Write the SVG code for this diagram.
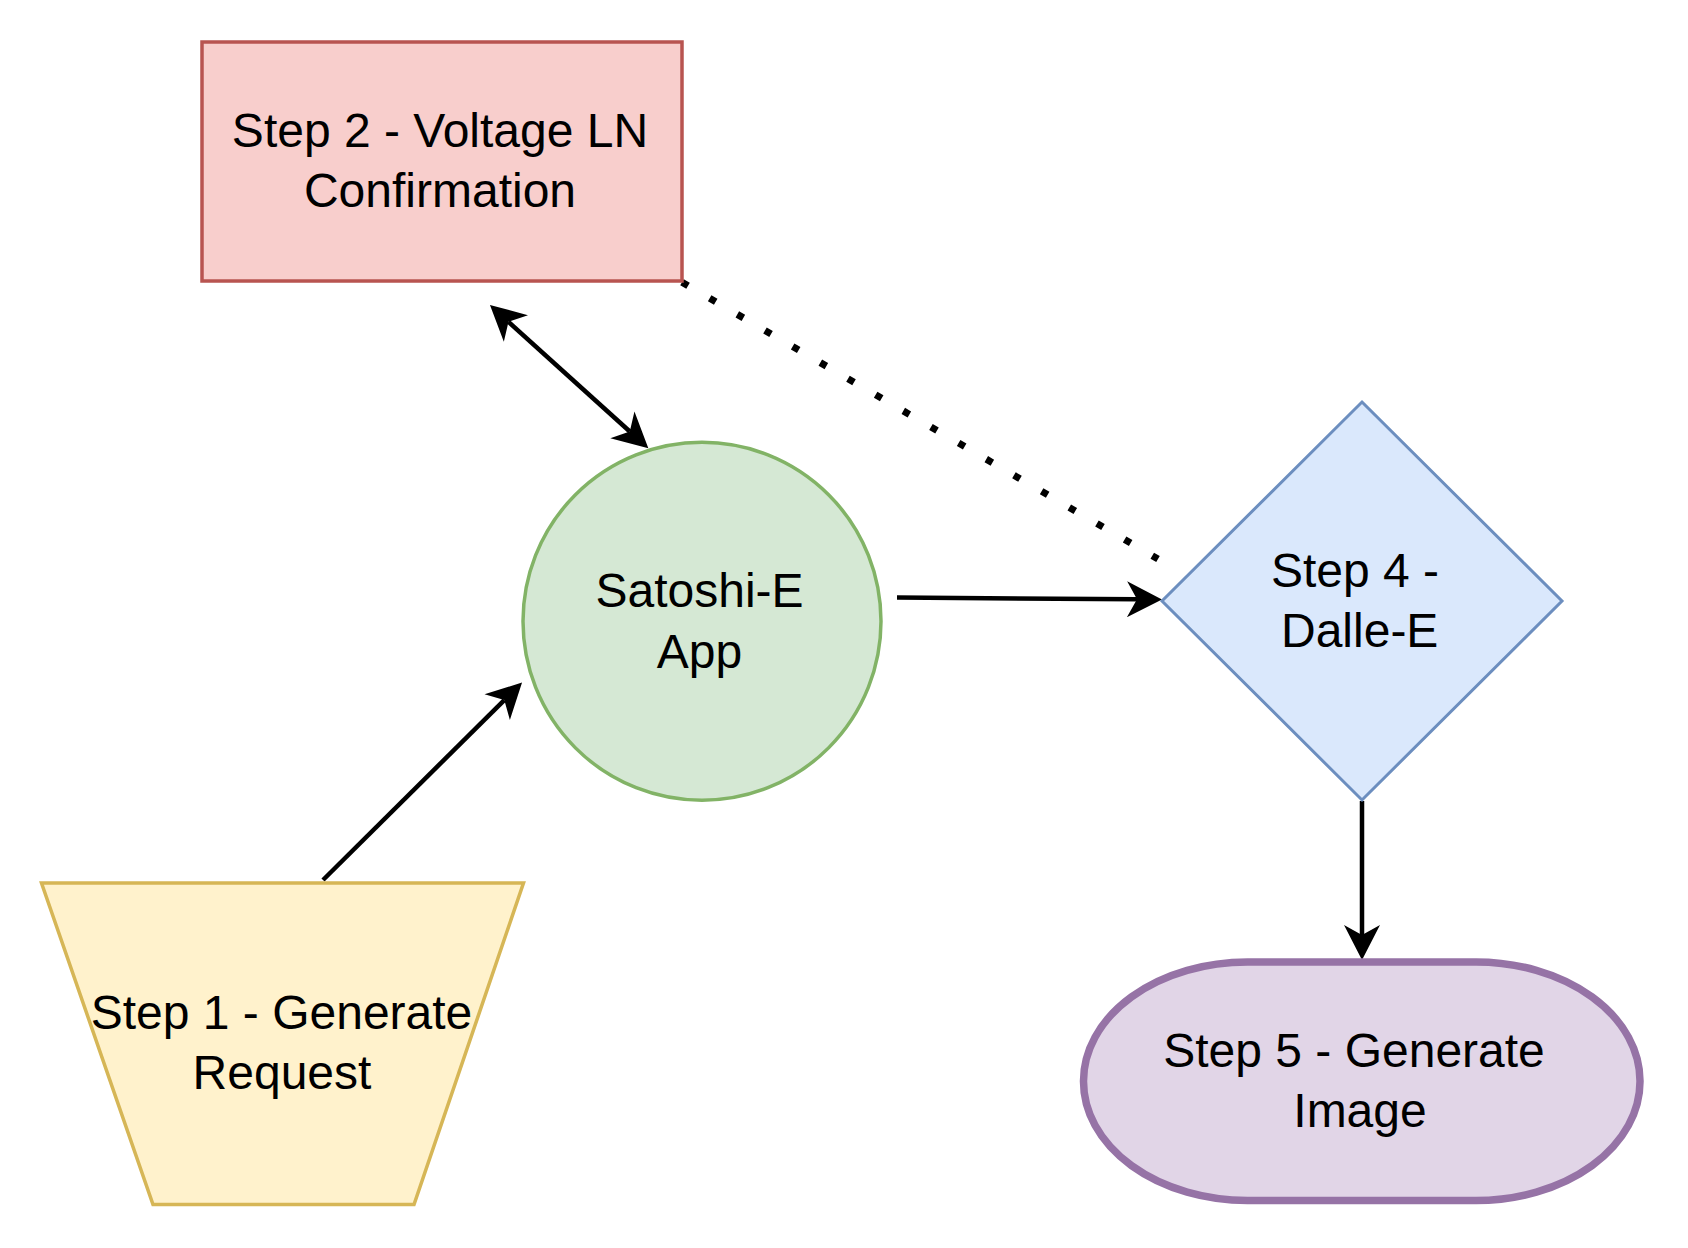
<svg xmlns="http://www.w3.org/2000/svg" width="1688" height="1248" viewBox="0 0 1688 1248">
  <style>
    .lbl { font-family: "Liberation Sans", Arial, Helvetica, sans-serif; font-size: 48px; fill: #000000; text-anchor: middle; }
    .edge { fill: none; stroke: #000000; stroke-width: 4.5; }
    .dotted { fill: none; stroke: #000000; stroke-width: 7; stroke-dasharray: 7 25; }
  </style>
  <defs>
    <marker id="arrow" markerUnits="userSpaceOnUse" viewBox="-12 -20 40 40" markerWidth="40" markerHeight="40" refX="0" refY="0" orient="auto-start-reverse" overflow="visible">
      <path d="M25,0 L-10,-18 L0,0 L-10,18 Z" fill="#000000" stroke="none"/>
    </marker>
  </defs>
  <rect x="0" y="0" width="1688" height="1248" fill="#ffffff"/>

  <g id="connectors">
    <path class="edge" d="M323,880 L504.3,700.1" marker-end="url(#arrow)"/>
    <path class="edge" d="M508.5,321.8 L629.8,431.5" marker-start="url(#arrow)" marker-end="url(#arrow)"/>
    <path class="edge" d="M897,597.5 L1137,599.3" marker-end="url(#arrow)"/>
    <path class="edge" d="M1362,801 L1362,935" marker-end="url(#arrow)"/>
    <path class="dotted" d="M682,282.2 L1158,559"/>
  </g>

  <g id="step2">
    <rect x="202" y="42" width="480" height="239" fill="#f8cecc" stroke="#b85450" stroke-width="3.5"/>
    <text class="lbl" x="440" y="147">Step 2 - Voltage LN</text>
    <text class="lbl" x="440" y="207">Confirmation</text>
  </g>

  <g id="app">
    <circle cx="702" cy="621.3" r="179" fill="#d5e8d4" stroke="#82b366" stroke-width="3.5"/>
    <text class="lbl" x="699.5" y="606.7">Satoshi-E</text>
    <text class="lbl" x="699.5" y="667.7">App</text>
  </g>

  <g id="step4">
    <polygon points="1362,402 1562,601 1362,800 1162,601" fill="#dae8fc" stroke="#6c8ebf" stroke-width="3"/>
    <text class="lbl" x="1355" y="586.7">Step 4 -</text>
    <text class="lbl" x="1359.7" y="646.7">Dalle-E</text>
  </g>

  <g id="step1">
    <polygon points="41.5,883 523.5,883 414,1204.5 153,1204.5" fill="#fff2cc" stroke="#d6b656" stroke-width="3.5"/>
    <text class="lbl" x="281.5" y="1029">Step 1 - Generate</text>
    <text class="lbl" x="282" y="1089.4">Request</text>
  </g>

  <g id="step5">
    <rect x="1083.5" y="962" width="556.5" height="238.5" rx="164" ry="119" fill="#e1d5e7" stroke="#9673a6" stroke-width="7.5"/>
    <text class="lbl" x="1354" y="1066.7">Step 5 - Generate</text>
    <text class="lbl" x="1360" y="1126.7">Image</text>
  </g>
</svg>
